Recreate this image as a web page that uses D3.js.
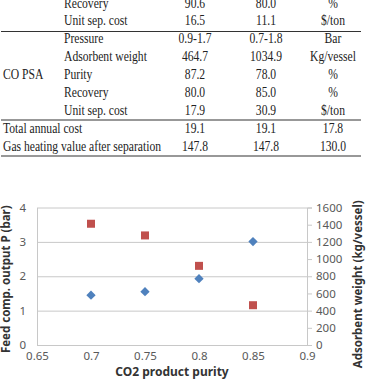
<!DOCTYPE html>
<html><head><meta charset="utf-8">
<script src="https://cdn.jsdelivr.net/npm/d3@7"></script>
<style>body{margin:0;background:#fff}svg{display:block}</style>
</head><body>
<svg id="c" width="368" height="380"></svg>
<script>
// ---- table data ----
const rowGroups = ["", "", "", "", "CO PSA", "", "", "Total annual cost", "Gas heating value after separation"];
const rowLabels = ["Recovery", "Unit sep. cost", "Pressure", "Adsorbent weight", "Purity", "Recovery", "Unit sep. cost", "", ""];
const colA = ["90.6", "16.5", "0.9-1.7", "464.7", "87.2", "80.0", "17.9", "19.1", "147.8"];
const colB = ["80.0", "11.1", "0.7-1.8", "1034.9", "78.0", "85.0", "30.9", "19.1", "147.8"];
const colC = ["%", "$/ton", "Bar", "Kg/vessel", "%", "%", "$/ton", "17.8", "130.0"];

// ---- chart data ----
const purity = [0.70, 0.75, 0.80, 0.85];
const pressure = [1.45, 1.55, 1.93, 3.01];
const adsorbent = [1411, 1275, 921, 463];
const xTicks = [0.65, 0.7, 0.75, 0.8, 0.85, 0.9];
const yLeftTicks = [0, 1, 2, 3, 4];
const yRightTicks = [0, 200, 400, 600, 800, 1000, 1200, 1400, 1600];

const svg = d3.select("#c");

// ---- table ----
const rowY = d3.scaleLinear().domain([0, 8]).range([7.5, 151]);
const serif = "Liberation Serif, Times New Roman, serif";
const sx = 0.83;
const tbl = svg.append("g").attr("font-family", serif).attr("font-size", 14).attr("fill", "#222");
function cell(txt, x, y, anchor) {
  if (!txt) return;
  tbl.append("text").attr("transform", `translate(${x},${y}) scale(${sx},1)`)
    .attr("text-anchor", anchor).attr("font-family", serif).text(txt);
}
rowLabels.forEach((l, i) => {
  const y = rowY(i);
  cell(rowGroups[i], 3, y, "start");
  cell(l, 64, y, "start");
  cell(colA[i], 195, y, "middle");
  cell(colB[i], 266, y, "middle");
  cell(colC[i], 333, y, "middle");
});
const ruleY = [31.5, 120, 156];
ruleY.forEach(y => {
  tbl.append("line").attr("x1", 1).attr("x2", 361).attr("y1", y).attr("y2", y)
    .attr("stroke", "#333").attr("stroke-width", 1.2);
});

// ---- chart ----
const L = 37, R = 307, T = 207.5, B = 345;
const x = d3.scaleLinear().domain([0.65, 0.9]).range([L, R]);
const yL = d3.scaleLinear().domain([0, 4]).range([B, T]);
const yR = d3.scaleLinear().domain([0, 1600]).range([B, T]);
const sans = "'Noto Sans','Open Sans',sans-serif";
const grid = "#c8c8c8";

const ch = svg.append("g").attr("font-family", sans);

// gridlines
ch.append("g").attr("transform", `translate(${L},0)`)
  .call(d3.axisLeft(yL).tickValues(yLeftTicks).tickSize(-(R - L)).tickFormat(""))
  .call(g => g.select(".domain").remove())
  .call(g => g.selectAll("line").attr("stroke", grid));

// left axis
ch.append("g").attr("transform", `translate(${L},0)`)
  .call(d3.axisLeft(yL).tickValues(yLeftTicks).tickSize(0).tickPadding(11).tickFormat(d3.format("d")))
  .call(g => g.select(".domain").attr("stroke", grid))
  .call(g => g.selectAll("text").attr("font-size", 11.5).attr("fill", "#595959").attr("font-family", sans));

// right axis
ch.append("g").attr("transform", `translate(${R},0)`)
  .call(d3.axisRight(yR).tickValues(yRightTicks).tickSize(5).tickPadding(4).tickFormat(d3.format("d")))
  .call(g => g.select(".domain").attr("stroke", grid))
  .call(g => g.selectAll("line").attr("stroke", grid))
  .call(g => g.selectAll("text").attr("font-size", 11.5).attr("fill", "#595959").attr("font-family", sans));

// bottom axis
ch.append("g").attr("transform", `translate(0,${B})`)
  .call(d3.axisBottom(x).tickValues(xTicks).tickSize(0).tickPadding(7).tickFormat(d => String(d)))
  .call(g => g.select(".domain").attr("stroke", grid))
  .call(g => g.selectAll("text").attr("font-size", 11.5).attr("fill", "#595959").attr("font-family", sans));

// diamonds (pressure)
ch.append("g").selectAll("path").data(purity).join("path")
  .attr("d", d3.symbol(d3.symbolDiamond2, 55))
  .attr("transform", (d, i) => `translate(${x(d)},${yL(pressure[i])})`)
  .attr("fill", "#4f81bd");

// squares (adsorbent)
ch.append("g").selectAll("rect").data(purity).join("rect")
  .attr("x", d => x(d) - 4).attr("width", 8).attr("height", 8)
  .attr("y", (d, i) => yR(adsorbent[i]) - 4)
  .attr("fill", "#c0504d");

// titles
ch.append("text").attr("x", (L + R) / 2).attr("y", 376).attr("text-anchor", "middle")
  .attr("font-size", 12).attr("font-weight", "bold").attr("fill", "#333").text("CO2 product purity");
ch.append("text").attr("transform", `translate(10,${(T + B) / 2 + 3}) rotate(-90)`).attr("text-anchor", "middle")
  .attr("font-size", 11.5).attr("font-weight", "bold").attr("fill", "#333").text("Feed comp. output P (bar)");
ch.append("text").attr("transform", `translate(362,${(T + B) / 2 + 8}) rotate(-90)`).attr("text-anchor", "middle")
  .attr("font-size", 11.5).attr("font-weight", "bold").attr("fill", "#333").text("Adsorbent weight (kg/vessel)");
</script>
</body></html>
